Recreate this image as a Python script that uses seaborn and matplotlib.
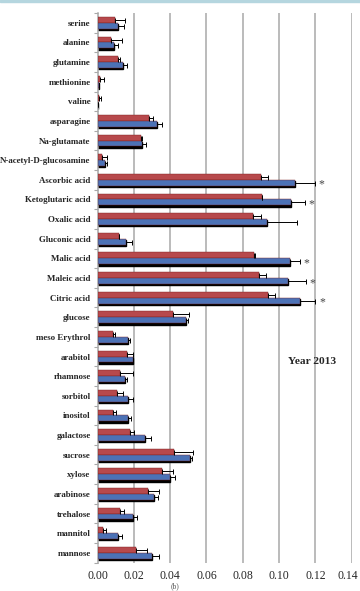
import numpy as np
import pandas as pd
import matplotlib
matplotlib.use("Agg")
import matplotlib.pyplot as plt
import matplotlib.transforms as mtransforms
import seaborn as sns
from matplotlib.patches import Rectangle

# --- Data ---
compounds = [
    "serine", "alanine", "glutamine", "methionine", "valine", "asparagine",
    "Na-glutamate", "N-acetyl-D-glucosamine", "Ascorbic acid", "Ketoglutaric acid",
    "Oxalic acid", "Gluconic acid", "Malic acid", "Maleic acid", "Citric acid",
    "glucose", "meso Erythrol", "arabitol", "rhamnose", "sorbitol", "inositol",
    "galactose", "sucrose", "xylose", "arabinose", "trehalose", "mannitol", "mannose",
]
red_vals = [0.0096, 0.0074, 0.0113, 0.0014, 0.0010, 0.0283, 0.0241, 0.0023,
            0.0902, 0.0906, 0.0856, 0.0116, 0.0862, 0.0891, 0.0939, 0.0415,
            0.0087, 0.0162, 0.0125, 0.0105, 0.0087, 0.0179, 0.0422, 0.0353,
            0.0279, 0.0124, 0.0030, 0.0212]
red_err = [0.0054, 0.0062, 0.0011, 0.0020, 0.0007, 0.0024, 0.0002, 0.0027,
           0.0037, 0.0, 0.0044, 0.0004, 0.0003, 0.0037, 0.0040, 0.0091,
           0.0011, 0.0035, 0.0072, 0.0037, 0.0016, 0.0021, 0.0103, 0.0060,
           0.0061, 0.0023, 0.0017, 0.0058]
blue_vals = [0.0110, 0.0090, 0.0142, 0.0008, 0.0005, 0.0325, 0.0246, 0.0043,
             0.1089, 0.1065, 0.0935, 0.0157, 0.1059, 0.1048, 0.1114, 0.0486,
             0.0166, 0.0193, 0.0153, 0.0169, 0.0169, 0.0261, 0.0508, 0.0400,
             0.0312, 0.0197, 0.0113, 0.0298]
blue_err = [0.0036, 0.0024, 0.0020, 0.0, 0.0, 0.0028, 0.0020, 0.0011,
            0.0110, 0.0077, 0.0161, 0.0034, 0.0057, 0.0101, 0.0086, 0.0013,
            0.0011, 0.0004, 0.0009, 0.0028, 0.0013, 0.0031, 0.0013, 0.0026,
            0.0022, 0.0018, 0.0023, 0.0040]
starred = ["Ascorbic acid", "Ketoglutaric acid", "Malic acid", "Maleic acid", "Citric acid"]
series = ["A", "B"]
xticks = [0.00, 0.02, 0.04, 0.06, 0.08, 0.10, 0.12, 0.14]

df = pd.DataFrame({
    "compound": compounds * 2,
    "value": red_vals + blue_vals,
    "err": red_err + blue_err,
    "series": [series[0]] * len(compounds) + [series[1]] * len(compounds),
})

sns.set_theme(style="white")
plt.rcParams["font.family"] = ["Liberation Serif", "DejaVu Serif"]

fig = plt.figure(figsize=(3.6, 5.91), dpi=100)
ax = fig.add_axes([0.271, 0.048, 0.706, 0.93])

# light blue strip along the very top of the picture
fig.patches.append(Rectangle((0, 0.996), 1, 0.004, transform=fig.transFigure,
                             color="#b5d6df", zorder=0))

# vertical grid first so bars draw over it
for t in xticks[1:]:
    ax.axvline(t, color="#a8a8a8", lw=1.1, zorder=0)

sns.barplot(data=df, y="compound", x="value", hue="series", hue_order=series,
            order=compounds, orient="h", palette=["#c9373b", "#3a6dc8"],
            width=0.6, errorbar=None, dodge=True, legend=False, ax=ax,
            edgecolor="#7a1f20", linewidth=0.3, zorder=3)

red_bars, blue_bars = ax.containers[0], ax.containers[1]

# black shadow under the blue bars
for p in blue_bars:
    shadow = Rectangle((p.get_x(), p.get_y() + 0.07), p.get_width(), p.get_height(),
                       color="black", zorder=2)
    ax.add_patch(shadow)

# one-sided error bars
for bars, errs in [(red_bars, red_err), (blue_bars, blue_err)]:
    ys = [p.get_y() + p.get_height() / 2 for p in bars]
    xs = [p.get_width() for p in bars]
    ax.errorbar(xs, ys, xerr=[np.zeros(len(errs)), errs], fmt="none",
                ecolor="black", elinewidth=0.7, capsize=1.8, capthick=0.7, zorder=4)

# significance stars
for name in starred:
    i = compounds.index(name)
    p = blue_bars[i]
    ax.text(blue_vals[i] + blue_err[i] + 0.002, p.get_y() + p.get_height() / 2 + 0.1,
            "*", fontsize=8.5, color="#444444", ha="left", va="center", zorder=5)

ax.text(0.118, compounds.index("arabitol") + 0.25, "Year 2013", fontsize=8.2,
        fontweight="bold", ha="center", va="center")

ax.set_xlim(0, 0.14)
ax.set_xticks(xticks)
ax.set_xticklabels([f"{t:.2f}" for t in xticks], fontsize=8.5)
ax.set_ylim(len(compounds) - 0.5, -0.5)
ax.set_xlabel("")
ax.set_ylabel("")
ax.tick_params(axis="y", length=0, labelsize=6.4, pad=5)
ax.tick_params(axis="x", length=0, pad=5)
for lab in ax.get_yticklabels():
    lab.set_fontweight("bold")
# nudge the last x label so it stays inside the picture
last = ax.get_xticklabels()[-1]
last.set_transform(last.get_transform() +
                   mtransforms.ScaledTranslation(-4 / 100, 0, fig.dpi_scale_trans))
ax.set_yticks(np.arange(len(compounds) + 1) - 0.5, minor=True)
ax.tick_params(axis="y", which="minor", length=3, color="#a8a8a8", width=0.8, left=True)

for side in ["top", "right", "bottom"]:
    ax.spines[side].set_visible(False)
ax.spines["left"].set_color("#a8a8a8")
ax.spines["left"].set_linewidth(1.1)

fig.text(0.485, 0.001, "(b)", fontsize=5.5, ha="center", va="bottom", color="#555555")

fig.savefig("out.png", dpi=100)
